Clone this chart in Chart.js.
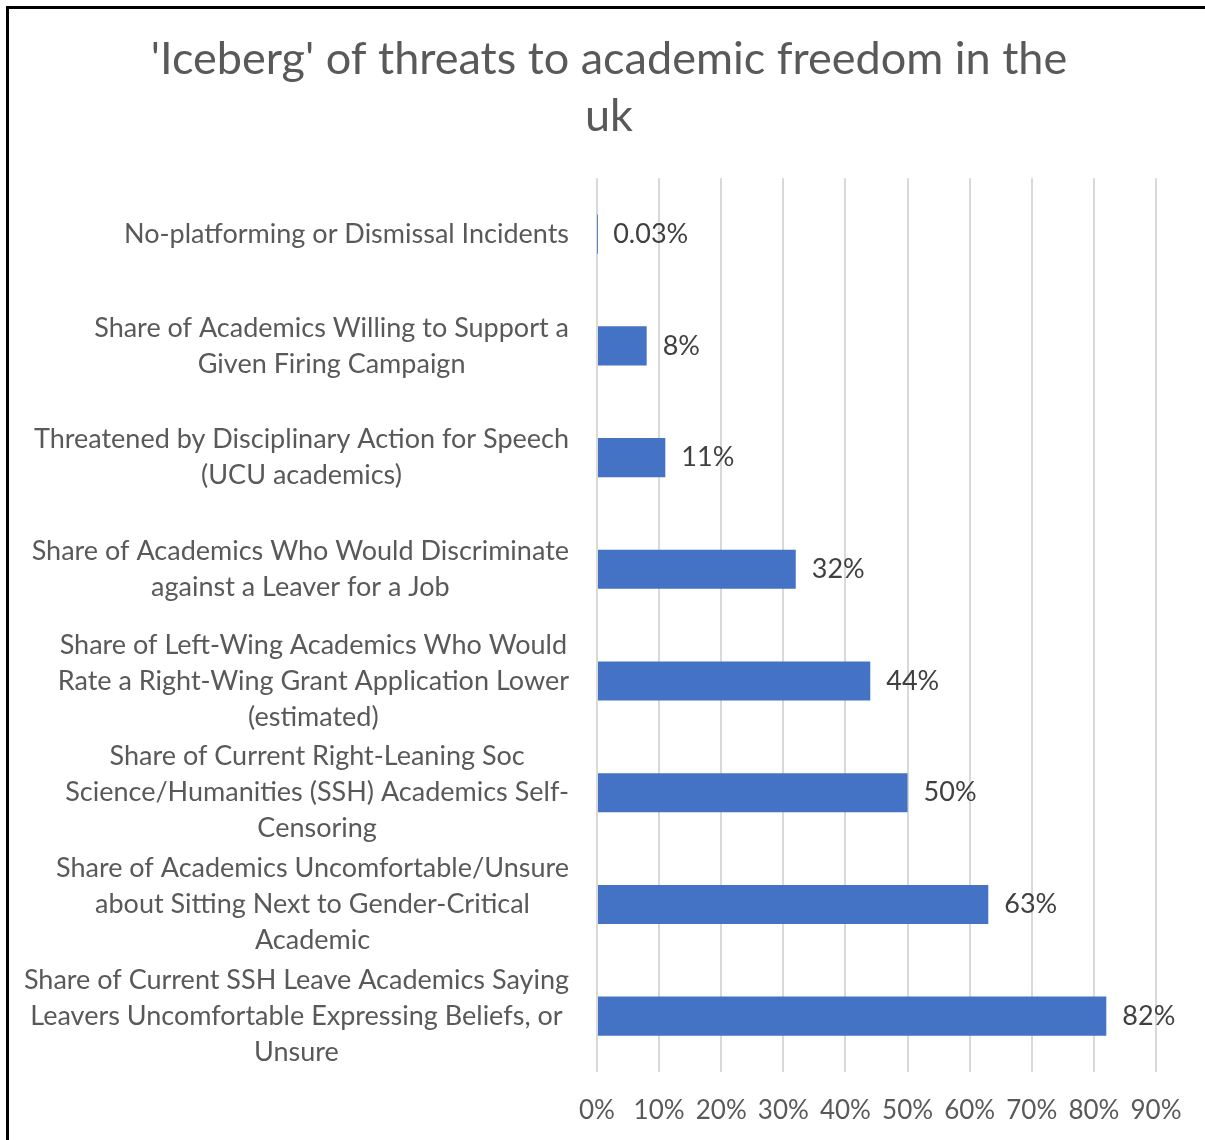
<!DOCTYPE html>
<html>
<head>
<meta charset="utf-8">
<script src="https://cdn.jsdelivr.net/npm/chart.js@4"></script>
<style>
  html, body { margin: 0; padding: 0; background: #fff; overflow: hidden; }
  #wrap { position: relative; width: 1205px; height: 1140px; }
  #frame { position: absolute; left: 6px; top: 6px; width: 1400px; height: 1400px;
           border: 3px solid #000; pointer-events: none; }
</style>
</head>
<body>
<div id="wrap">
  <canvas id="myChart" width="1205" height="1140"></canvas>
  <div id="frame"></div>
</div>
<script>
// dados
const categorias = [
  ["No-platforming or Dismissal Incidents"],
  ["Share of Academics Willing to Support a", "Given Firing Campaign"],
  ["Threatened by Disciplinary Action for Speech", "(UCU academics)"],
  ["Share of Academics Who Would Discriminate", "against a Leaver for a Job"],
  ["Share of Left-Wing Academics Who Would", "Rate a Right-Wing Grant Application Lower", "(estimated)"],
  ["Share of Current Right-Leaning Soc", "Science/Humanities (SSH) Academics Self-", "Censoring"],
  ["Share of Academics Uncomfortable/Unsure", "about Sitting Next to Gender-Critical", "Academic"],
  ["Share of Current SSH Leave Academics Saying", "Leavers Uncomfortable Expressing Beliefs, or", "Unsure"]
];
const valores = [0.03, 8, 11, 32, 44, 50, 63, 82];
const rotulosValores = ["0.03%", "8%", "11%", "32%", "44%", "50%", "63%", "82%"];
const eixoMax = 90;
const eixoPasso = 10;

const FONTE = "Lato, 'Open Sans', sans-serif";

// rótulos do eixo y centralizados em cada bloco (estilo Excel)
const rotulosY = {
  id: 'rotulosY',
  afterDraw(chart) {
    const ctx = chart.ctx;
    const y = chart.scales.y;
    const direita = chart.chartArea.left - 28;
    ctx.save();
    ctx.font = "27px " + FONTE;
    ctx.fillStyle = "#595959";
    ctx.textAlign = "center";
    ctx.textBaseline = "middle";
    categorias.forEach(function (linhas, i) {
      const yc = y.getPixelForValue(i);
      let maior = 0;
      linhas.forEach(function (l) { maior = Math.max(maior, ctx.measureText(l).width); });
      const cx = direita - maior / 2;
      linhas.forEach(function (l, j) {
        ctx.fillText(l, cx, yc + (j - (linhas.length - 1) / 2) * 36);
      });
    });
    ctx.restore();
  }
};

// rótulos de valor no fim das barras
const rotulosBarras = {
  id: 'rotulosBarras',
  afterDatasetsDraw(chart) {
    const ctx = chart.ctx;
    const meta = chart.getDatasetMeta(0);
    ctx.save();
    ctx.font = "27px " + FONTE;
    ctx.fillStyle = "#404040";
    ctx.textAlign = "left";
    ctx.textBaseline = "middle";
    meta.data.forEach(function (bar, i) {
      ctx.fillText(rotulosValores[i], bar.x + 16, bar.y);
    });
    ctx.restore();
  }
};

const config = {
  type: 'bar',
  data: {
    labels: categorias,
    datasets: [{
      data: valores,
      backgroundColor: "#4472C4",
      borderWidth: 0,
      barPercentage: 0.35,
      categoryPercentage: 1
    }]
  },
  options: {
    indexAxis: 'y',
    responsive: false,
    animation: false,
    layout: {
      padding: { left: 13, right: 0, top: 0, bottom: 15 }
    },
    plugins: {
      legend: { display: false },
      tooltip: { enabled: false },
      title: {
        display: true,
        text: ["'Iceberg' of threats to academic freedom in the", "uk"],
        color: "#595959",
        font: { family: FONTE, size: 45, weight: 'normal', lineHeight: 1.27 },
        padding: { top: 31, bottom: 33 }
      }
    },
    scales: {
      x: {
        min: 0,
        max: eixoMax,
        ticks: {
          stepSize: eixoPasso,
          color: "#595959",
          padding: 23,
          font: { family: FONTE, size: 26 },
          callback: function (v) { return v + "%"; }
        },
        grid: { color: "#d9d9d9", lineWidth: 2, drawTicks: false },
        border: { display: false },
        afterFit: function (scale) {
          scale.height = 53;
          scale.paddingRight = 49;
        }
      },
      y: {
        ticks: { display: false },
        grid: { display: false },
        border: { display: false },
        afterFit: function (scale) { scale.width = 584; }
      }
    }
  },
  plugins: [rotulosY, rotulosBarras]
};

var grafico = new Chart(document.getElementById("myChart"), config);
</script>
</body>
</html>
